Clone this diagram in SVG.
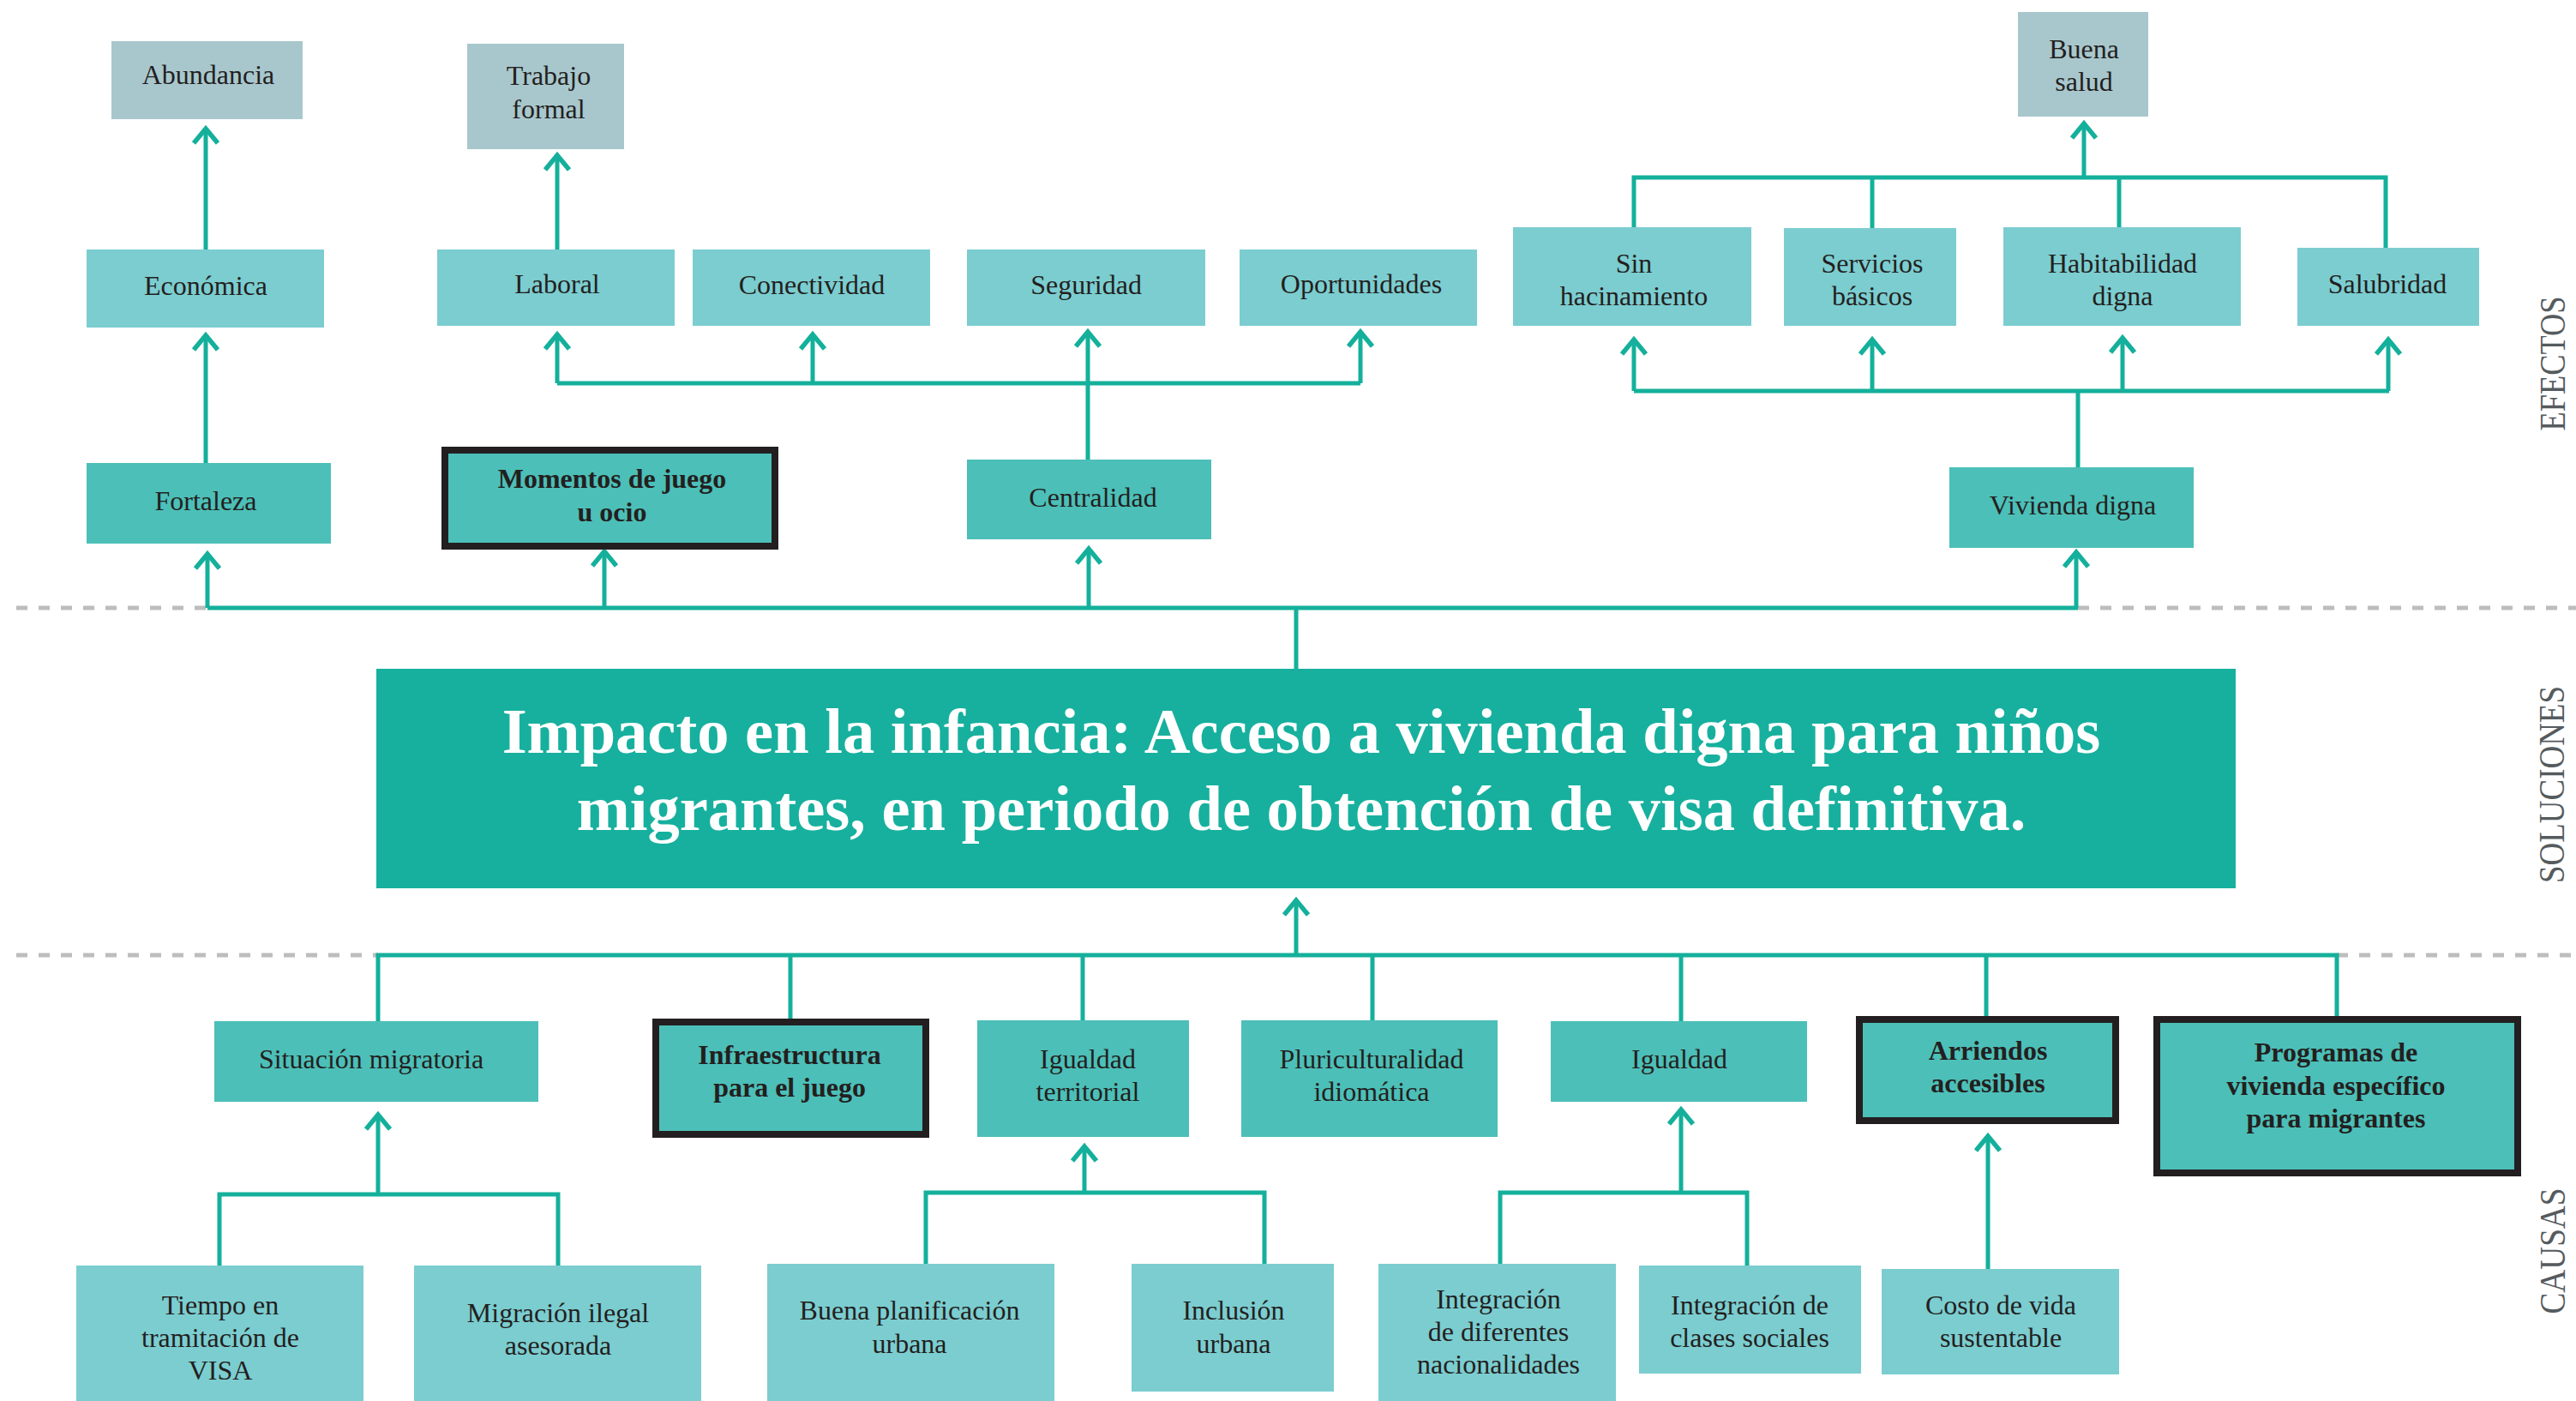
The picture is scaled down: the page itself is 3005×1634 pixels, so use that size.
<svg xmlns="http://www.w3.org/2000/svg" width="3005" height="1634" viewBox="0 0 3005 1634">
<style>
.bg{fill:#ffffff}
.g{fill:#A8C7CD}
.l{fill:#7BCDD0}
.m{fill:#4CBFB8}
.bd{fill:#4CBFB8;stroke:#231F20;stroke-width:8}
.main{fill:#17B09E}
.t{font-family:"Liberation Serif","Times New Roman",serif;font-size:32px;fill:#231F20;text-anchor:middle}
.tb{font-family:"Liberation Serif","Times New Roman",serif;font-size:32px;font-weight:bold;fill:#231F20;text-anchor:middle}
.title{font-family:"Liberation Serif","Times New Roman",serif;font-size:74.5px;font-weight:bold;fill:#ffffff;text-anchor:middle}
.side{font-family:"Liberation Serif","Times New Roman",serif;font-size:42px;fill:#555B5E;text-anchor:middle}
.c{fill:none;stroke:#14B09B;stroke-width:5}
.a{fill:none;stroke:#14B09B;stroke-width:5;marker-end:url(#ah)}
.d{fill:none;stroke:#BDBDBD;stroke-width:5;stroke-dasharray:13 13}
</style>
<defs>
<marker id="ah" markerUnits="userSpaceOnUse" markerWidth="40" markerHeight="40" viewBox="-20 -20 40 40" refX="0" refY="0" orient="auto">
<path d="M-17,-14 L0,0 L-17,14" fill="none" stroke="#14B09B" stroke-width="5.5"/>
</marker>
</defs>
<rect class="bg" x="0" y="0" width="3005" height="1634"/>

<g id="separators">
<path class="d" d="M19,709 H242"/>
<path class="d" d="M2424,709 H3005"/>
<path class="d" d="M19,1114 H441"/>
<path class="d" d="M2726,1114 H3005"/>
</g>

<g id="connectors">
<path class="a" d="M240,291 V150"/>
<path class="a" d="M240,540 V391"/>
<path class="a" d="M650,291 V181"/>
<path class="c" d="M650,447 H1587"/>
<path class="a" d="M1269,536 V387"/>
<path class="a" d="M650,447 V390"/>
<path class="a" d="M948,447 V390"/>
<path class="a" d="M1587,447 V387"/>
<path class="c" d="M2424,545 V456"/>
<path class="c" d="M1906,456 H2787"/>
<path class="a" d="M1906,456 V396"/>
<path class="a" d="M2184,456 V396"/>
<path class="a" d="M2476,456 V394"/>
<path class="a" d="M2786,456 V396"/>
<path class="c" d="M1906,265 V207 H2783 V289"/>
<path class="c" d="M2184,207 V266"/>
<path class="c" d="M2472,207 V265"/>
<path class="a" d="M2431,207 V144"/>
<path class="c" d="M242,709 H2424"/>
<path class="a" d="M242,709 V646"/>
<path class="a" d="M705,709 V643"/>
<path class="a" d="M1270,709 V640"/>
<path class="a" d="M2422,709 V644"/>
<path class="c" d="M1512,709 V780"/>
<path class="a" d="M1512,1114 V1050"/>
<path class="c" d="M441,1191 V1114 H2726 V1185"/>
<path class="c" d="M922,1114 V1188"/>
<path class="c" d="M1263,1114 V1190"/>
<path class="c" d="M1601,1114 V1190"/>
<path class="c" d="M1961,1114 V1191"/>
<path class="c" d="M2317,1114 V1185"/>
<path class="c" d="M256,1476 V1393 H651 V1476"/>
<path class="a" d="M441,1393 V1300"/>
<path class="c" d="M1080,1474 V1391 H1475 V1474"/>
<path class="a" d="M1265,1391 V1337"/>
<path class="c" d="M1750,1474 V1391 H2038 V1476"/>
<path class="a" d="M1961,1391 V1294"/>
<path class="a" d="M2319,1480 V1325"/>
</g>

<g id="n-abundancia"><rect class="g" x="130" y="48" width="223" height="91"/><text class="t" x="243" y="98">Abundancia</text></g>
<g id="n-trabajo"><rect class="g" x="545" y="51" width="183" height="123"/><text class="t" x="640" y="99">Trabajo</text><text class="t" x="640" y="138">formal</text></g>
<g id="n-buenasalud"><rect class="g" x="2354" y="14" width="152" height="122"/><text class="t" x="2431" y="68">Buena</text><text class="t" x="2431" y="106">salud</text></g>

<g id="n-economica"><rect class="l" x="101" y="291" width="277" height="91"/><text class="t" x="240" y="344">Económica</text></g>
<g id="n-laboral"><rect class="l" x="510" y="291" width="277" height="89"/><text class="t" x="650" y="342">Laboral</text></g>
<g id="n-conectividad"><rect class="l" x="808" y="291" width="277" height="89"/><text class="t" x="947" y="343">Conectividad</text></g>
<g id="n-seguridad"><rect class="l" x="1128" y="291" width="278" height="89"/><text class="t" x="1267" y="343">Seguridad</text></g>
<g id="n-oportunidades"><rect class="l" x="1446" y="291" width="277" height="89"/><text class="t" x="1588" y="342">Oportunidades</text></g>
<g id="n-sinhac"><rect class="l" x="1765" y="265" width="278" height="115"/><text class="t" x="1906" y="318">Sin</text><text class="t" x="1906" y="356">hacinamiento</text></g>
<g id="n-servicios"><rect class="l" x="2081" y="266" width="201" height="114"/><text class="t" x="2184" y="318">Servicios</text><text class="t" x="2184" y="356">básicos</text></g>
<g id="n-habitabilidad"><rect class="l" x="2337" y="265" width="277" height="115"/><text class="t" x="2476" y="318">Habitabilidad</text><text class="t" x="2476" y="356">digna</text></g>
<g id="n-salubridad"><rect class="l" x="2680" y="289" width="212" height="91"/><text class="t" x="2785" y="342">Salubridad</text></g>

<g id="n-fortaleza"><rect class="m" x="101" y="540" width="285" height="94"/><text class="t" x="240" y="595">Fortaleza</text></g>
<g id="n-momentos"><rect class="bd" x="519" y="525" width="385" height="112"/><text class="tb" x="714" y="569">Momentos de juego</text><text class="tb" x="714" y="608">u ocio</text></g>
<g id="n-centralidad"><rect class="m" x="1128" y="536" width="285" height="93"/><text class="t" x="1275" y="591">Centralidad</text></g>
<g id="n-vivienda"><rect class="m" x="2274" y="545" width="285" height="94"/><text class="t" x="2418" y="600">Vivienda digna</text></g>

<g id="n-main"><rect class="main" x="439" y="780" width="2169" height="256"/><text class="title" x="1518" y="878">Impacto en la infancia: Acceso a vivienda digna para niños</text><text class="title" x="1518" y="968">migrantes, en periodo de obtención de visa definitiva.</text></g>

<g id="n-situacion"><rect class="m" x="250" y="1191" width="378" height="94"/><text class="t" x="433" y="1246">Situación migratoria</text></g>
<g id="n-infra"><rect class="bd" x="765" y="1192" width="315" height="131"/><text class="tb" x="921" y="1241">Infraestructura</text><text class="tb" x="921" y="1279">para el juego</text></g>
<g id="n-igualdadterr"><rect class="m" x="1140" y="1190" width="247" height="136"/><text class="t" x="1269" y="1246">Igualdad</text><text class="t" x="1269" y="1284">territorial</text></g>
<g id="n-pluri"><rect class="m" x="1448" y="1190" width="299" height="136"/><text class="t" x="1600" y="1246">Pluriculturalidad</text><text class="t" x="1600" y="1284">idiomática</text></g>
<g id="n-igualdad"><rect class="m" x="1809" y="1191" width="299" height="94"/><text class="t" x="1959" y="1246">Igualdad</text></g>
<g id="n-arriendos"><rect class="bd" x="2169" y="1189" width="299" height="118"/><text class="tb" x="2319" y="1236">Arriendos</text><text class="tb" x="2319" y="1274">accesibles</text></g>
<g id="n-programas"><rect class="bd" x="2516" y="1189" width="421" height="179"/><text class="tb" x="2725" y="1238">Programas de</text><text class="tb" x="2725" y="1277">vivienda específico</text><text class="tb" x="2725" y="1315">para migrantes</text></g>

<g id="n-tiempo"><rect class="l" x="89" y="1476" width="335" height="158"/><text class="t" x="257" y="1533">Tiempo en</text><text class="t" x="257" y="1571">tramitación de</text><text class="t" x="257" y="1609">VISA</text></g>
<g id="n-migracion"><rect class="l" x="483" y="1476" width="335" height="158"/><text class="t" x="651" y="1542">Migración ilegal</text><text class="t" x="651" y="1580">asesorada</text></g>
<g id="n-planificacion"><rect class="l" x="895" y="1474" width="335" height="160"/><text class="t" x="1061" y="1539">Buena planificación</text><text class="t" x="1061" y="1578">urbana</text></g>
<g id="n-inclusion"><rect class="l" x="1320" y="1474" width="236" height="149"/><text class="t" x="1439" y="1539">Inclusión</text><text class="t" x="1439" y="1578">urbana</text></g>
<g id="n-intdif"><rect class="l" x="1608" y="1474" width="277" height="160"/><text class="t" x="1748" y="1526">Integración</text><text class="t" x="1748" y="1564">de diferentes</text><text class="t" x="1748" y="1602">nacionalidades</text></g>
<g id="n-intclases"><rect class="l" x="1912" y="1476" width="259" height="126"/><text class="t" x="2041" y="1533">Integración de</text><text class="t" x="2041" y="1571">clases sociales</text></g>
<g id="n-costo"><rect class="l" x="2195" y="1480" width="277" height="123"/><text class="t" x="2334" y="1533">Costo de vida</text><text class="t" x="2334" y="1571">sustentable</text></g>

<g id="labels">
<text class="side" transform="translate(2992,424) rotate(-90)" textLength="157" lengthAdjust="spacingAndGlyphs">EFECTOS</text>
<text class="side" transform="translate(2991,915) rotate(-90)" textLength="230" lengthAdjust="spacingAndGlyphs">SOLUCIONES</text>
<text class="side" transform="translate(2992,1459) rotate(-90)" textLength="147" lengthAdjust="spacingAndGlyphs">CAUSAS</text>
</g>
</svg>
